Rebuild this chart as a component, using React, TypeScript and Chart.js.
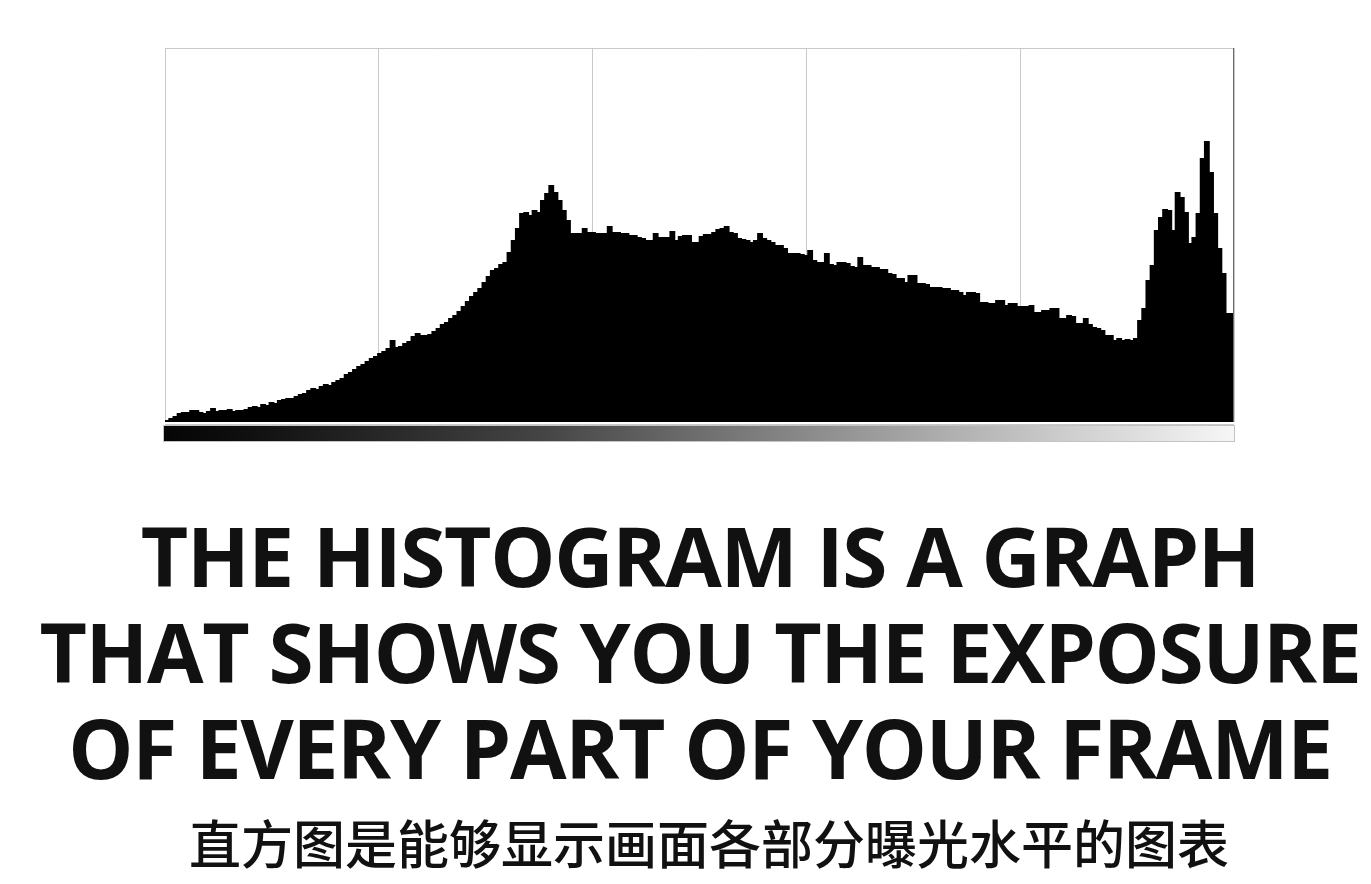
import React, { useEffect, useRef } from "react";
import { Chart, registerables } from "chart.js";

Chart.register(...registerables);

// Histogram bin heights (256 tonal levels, dark -> light)
const binValues: number[] = [
  2, 4, 6, 9, 10, 10, 12, 12, 10, 9,
  11, 14, 11, 12, 12, 13, 11, 12, 12, 13,
  15, 16, 15, 18, 17, 20, 19, 22, 23, 24,
  24, 26, 28, 29, 32, 34, 33, 36, 38, 37,
  40, 42, 44, 48, 50, 53, 56, 58, 61, 64,
  66, 69, 71, 74, 82, 75, 76, 79, 81, 86,
  89, 87, 87, 88, 91, 94, 98, 100, 104, 107,
  111, 116, 121, 126, 130, 134, 140, 146, 152, 154,
  158, 160, 170, 182, 194, 209, 210, 207, 212, 210,
  222, 229, 237, 230, 222, 212, 202, 189, 189, 189,
  194, 190, 190, 189, 189, 189, 196, 190, 190, 189,
  189, 187, 187, 185, 184, 182, 182, 189, 185, 185,
  185, 191, 182, 186, 187, 187, 180, 180, 186, 188,
  188, 190, 193, 194, 196, 190, 189, 184, 183, 182,
  180, 182, 189, 184, 182, 180, 177, 177, 174, 169,
  169, 169, 168, 167, 172, 162, 160, 160, 169, 158,
  157, 160, 160, 159, 156, 155, 165, 157, 157, 155,
  155, 153, 153, 149, 148, 144, 144, 140, 147, 147,
  139, 139, 138, 135, 135, 135, 134, 134, 132, 132,
  130, 127, 130, 130, 129, 120, 120, 119, 119, 122,
  122, 117, 119, 119, 116, 116, 116, 117, 110, 110,
  112, 112, 114, 114, 104, 104, 107, 106, 99, 99,
  104, 98, 95, 94, 92, 87, 87, 82, 84, 82,
  83, 82, 84, 102, 114, 142, 157, 192, 205, 213,
  212, 192, 230, 225, 210, 179, 185, 209, 264, 281,
  250, 209, 174, 149, 109, 109,
];

// Vertical grid divisions across the tonal range (0..256)
const gridStops: number[] = [0, 51.2, 102.4, 153.6, 204.8, 256];
const yMax = 374;

const headlineLines: string[] = [
  "THE HISTOGRAM IS A GRAPH",
  "THAT SHOWS YOU THE EXPOSURE",
  "OF EVERY PART OF YOUR FRAME",
];
const subtitle = "直方图是能够显示画面各部分曝光水平的图表";

const framePlugin = {
  id: "frame",
  afterDraw(chart: any) {
    const { ctx, chartArea } = chart;
    const { left, right, top, bottom } = chartArea;
    ctx.save();
    ctx.lineWidth = 1;
    ctx.strokeStyle = "#c9c9c9";
    ctx.beginPath();
    ctx.moveTo(left, Math.round(top) + 0.5);
    ctx.lineTo(right, Math.round(top) + 0.5);
    ctx.moveTo(left, Math.round(bottom) + 2.5);
    ctx.lineTo(right, Math.round(bottom) + 2.5);
    ctx.stroke();
    // right edge darker
    ctx.strokeStyle = "#6a6a6a";
    ctx.beginPath();
    ctx.moveTo(Math.round(right) - 0.5, top);
    ctx.lineTo(Math.round(right) - 0.5, bottom);
    ctx.stroke();
    // tonal gradient strip
    const g = ctx.createLinearGradient(left, 0, right, 0);
    g.addColorStop(0, "#050505");
    g.addColorStop(0.08, "#101010");
    g.addColorStop(0.35, "#444444");
    g.addColorStop(0.6, "#8a8a8a");
    g.addColorStop(0.85, "#cfcfcf");
    g.addColorStop(1, "#f6f6f6");
    ctx.fillStyle = g;
    const y0 = Math.round(bottom) + 4;
    ctx.fillRect(left - 1, y0, right - left + 1, 15);
    ctx.strokeStyle = "#c4c4c4";
    ctx.strokeRect(left - 1.5, y0 - 0.5, right - left + 2, 16);
    ctx.restore();
  },
};

export default function App() {
  const canvasRef = useRef<HTMLCanvasElement | null>(null);

  useEffect(() => {
    if (!canvasRef.current) return;
    const chart = new Chart(canvasRef.current, {
      type: "bar",
      data: {
        datasets: [
          {
            data: binValues.map((v, i) => ({ x: i + 0.5, y: v })),
            backgroundColor: "#000000",
            borderWidth: 0,
            barPercentage: 1.4,
            categoryPercentage: 1,
          },
        ],
      },
      plugins: [framePlugin],
      options: {
        animation: false,
        responsive: false,
        maintainAspectRatio: false,
        layout: { padding: { left: 165, top: 48, right: 137, bottom: 38 } },
        plugins: { legend: { display: false }, tooltip: { enabled: false } },
        scales: {
          x: {
            type: "linear",
            min: 0,
            max: 256,
            offset: false,
            afterBuildTicks: (scale: any) => {
              scale.ticks = gridStops.map((v) => ({ value: v }));
            },
            ticks: { display: false },
            grid: {
              offset: false,
              drawTicks: false,
              color: "#c9c9c9",
              lineWidth: 1,
            },
            border: { display: false },
          },
          y: {
            display: false,
            min: 0,
            max: yMax,
          },
        },
      },
    } as any);
    return () => chart.destroy();
  }, []);

  const headStyle: React.CSSProperties = {
    position: "absolute",
    left: 0,
    width: 1400,
    textAlign: "center",
    fontFamily: "'Open Sans', sans-serif",
    fontWeight: 700,
    fontSize: 82,
    lineHeight: "82px",
    letterSpacing: "-1.3px",
    color: "#111111",
    whiteSpace: "nowrap",
  };

  return (
    <div
      style={{
        position: "fixed",
        left: 0,
        top: 0,
        width: 1371,
        height: 884,
        background: "#ffffff",
        overflow: "hidden",
      }}
    >
      <canvas
        ref={canvasRef}
        width={1371}
        height={460}
        style={{ position: "absolute", left: 0, top: 0, width: 1371, height: 460 }}
      />
      {headlineLines.map((line, i) => (
        <div key={i} style={{ ...headStyle, top: 514 + i * 96 }}>
          {line}
        </div>
      ))}
      <div
        style={{
          position: "absolute",
          left: 0,
          width: 1418,
          top: 816,
          textAlign: "center",
          fontFamily: "'Noto Sans CJK SC', sans-serif",
          fontWeight: 500,
          fontSize: 52,
          lineHeight: "52px",
          color: "#111111",
          whiteSpace: "nowrap",
        }}
      >
        {subtitle}
      </div>
    </div>
  );
}
